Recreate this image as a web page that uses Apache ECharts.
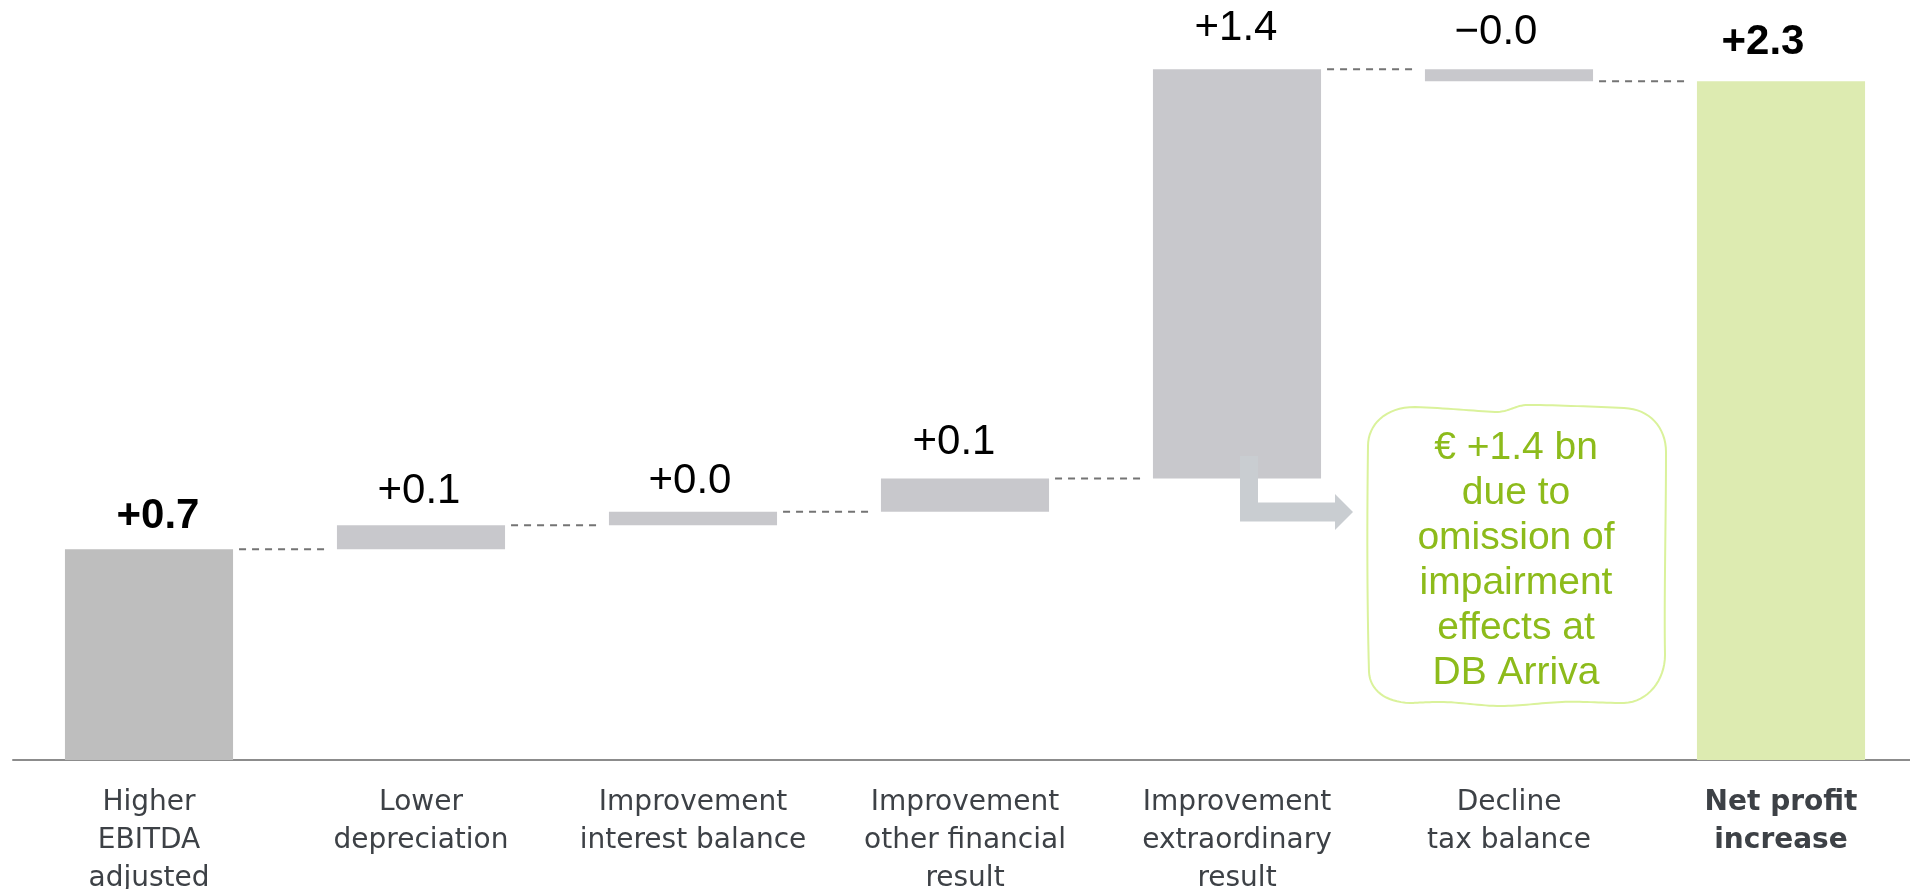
<!DOCTYPE html>
<html>
<head>
<meta charset="utf-8">
<title>Net profit bridge</title>
<script src="https://cdn.jsdelivr.net/npm/echarts@6/dist/echarts.min.js"></script>
<style>
  html, body { margin: 0; padding: 0; background: #ffffff; overflow: hidden; }
  #chart { width: 1910px; height: 889px; }
</style>
</head>
<body>
<div id="chart"></div>
<script>
// Bridge steps (€ bn) and the closing total
const categories = [
  'Higher\nEBITDA\nadjusted',
  'Lower\ndepreciation',
  'Improvement\ninterest balance',
  'Improvement\nother financial\nresult',
  'Improvement\nextraordinary\nresult',
  'Decline\ntax balance',
  'Net profit\nincrease'
];
const deltas = [0.70, 0.08, 0.045, 0.11, 1.36, -0.04];
const boldValues = [0, 6];
const boldCategories = [6];
const noteLines = ['€ +1.4 bn', 'due to', 'omission of', 'impairment', 'effects at', 'DB Arriva'];

// small label nudges [dx, dy] in px
const labelNudge = [[9, 4], [-2, 3], [-3, 7], [-11, 1], [-1, -4], [-13, 0], [-18, -2]];

const round3 = v => Math.round(v * 1000) / 1000;
const fmt = v => (v < 0 ? '\u2212' : '+') + Math.abs(v).toFixed(1);

// cumulative levels
const levels = [];
let run = 0;
deltas.forEach(d => { run = round3(run + d); levels.push(run); });
const total = levels[levels.length - 1];

const baseData = [];
const barData = [];
const colors = ['#bebebe', '#c8c8cc', '#c8c8cc', '#c8c8cc', '#c8c8cc', '#c8c8cc', '#ddebb1'];
let prev = 0;
deltas.forEach((d, i) => {
  baseData.push(round3(Math.min(prev, levels[i])));
  barData.push({ value: round3(Math.abs(d)), raw: d });
  prev = levels[i];
});
baseData.push(0);
barData.push({ value: total, raw: total });

barData.forEach((item, i) => {
  item.itemStyle = { color: colors[i] };
  item.label = {
    offset: labelNudge[i],
    fontWeight: boldValues.includes(i) ? 'bold' : 'normal'
  };
});

const connectorData = levels.map((v, i) => [i, v]);

const xData = categories.map((c, i) => ({
  value: c,
  textStyle: { fontWeight: boldCategories.includes(i) ? 'bold' : 'normal' }
}));

// hand-drawn style outline of the note box, as cubic segments
const noteOutline = [
  [1368, 446],
  [1368, 425, 1385, 407, 1415, 407],
  [1445, 408, 1475, 411, 1495, 412],
  [1510, 412, 1515, 405, 1528, 405],
  [1560, 405, 1595, 407, 1624, 408],
  [1650, 409, 1666, 428, 1666, 452],
  [1666, 520, 1664, 600, 1665, 655],
  [1665, 680, 1648, 702, 1624, 703],
  [1600, 703, 1580, 701, 1562, 702],
  [1540, 703, 1520, 706, 1501, 706],
  [1480, 706, 1460, 702, 1440, 702],
  [1425, 702, 1415, 703, 1410, 703],
  [1385, 702, 1370, 690, 1369, 672],
  [1367, 600, 1367, 520, 1368, 446]
];
function sampleCubics(segs) {
  const pts = [segs[0].slice()];
  let [x0, y0] = segs[0];
  for (let s = 1; s < segs.length; s++) {
    const [x1, y1, x2, y2, x3, y3] = segs[s];
    for (let k = 1; k <= 16; k++) {
      const t = k / 16, u = 1 - t;
      pts.push([
        u * u * u * x0 + 3 * u * u * t * x1 + 3 * u * t * t * x2 + t * t * t * x3,
        u * u * u * y0 + 3 * u * u * t * y1 + 3 * u * t * t * y2 + t * t * t * y3
      ]);
    }
    x0 = x3; y0 = y3;
  }
  return pts;
}

const chart = echarts.init(document.getElementById('chart'), null, { renderer: 'canvas' });

const option = {
  animation: false,
  backgroundColor: '#ffffff',
  grid: {
    left: 13, width: 1904, top: 7.5, bottom: 129,
    containLabel: false,
    outerBoundsMode: 'none'
  },
  xAxis: {
    type: 'category',
    data: xData,
    axisLine: { show: true, lineStyle: { color: '#8c8c8c', width: 2 } },
    axisTick: { show: false },
    axisLabel: {
      interval: 0,
      margin: 24,
      fontFamily: 'DejaVu Sans',
      fontSize: 28,
      lineHeight: 38,
      color: '#3d4146'
    }
  },
  yAxis: {
    type: 'value',
    min: 0,
    max: 2.5,
    show: false,
    splitLine: { show: false }
  },
  series: [
    {
      type: 'bar',
      stack: 'bridge',
      barWidth: '61.8%',
      silent: true,
      itemStyle: { color: 'rgba(0,0,0,0)' },
      data: baseData
    },
    {
      type: 'bar',
      stack: 'bridge',
      barWidth: '61.8%',
      data: barData,
      label: {
        show: true,
        position: 'top',
        distance: 16,
        fontFamily: 'Liberation Sans',
        fontSize: 42,
        color: '#000000',
        formatter: p => fmt(p.data.raw)
      }
    },
    {
      type: 'custom',
      data: connectorData,
      silent: true,
      z: 3,
      renderItem: (params, api) => {
        const i = api.value(0);
        const v = api.value(1);
        const p = api.coord([i, v]);
        const band = api.size([1, 0])[0];
        const half = band * 0.309;
        return {
          type: 'line',
          shape: { x1: p[0] + half + 6, y1: p[1], x2: p[0] + band - half - 9, y2: p[1] },
          style: { stroke: '#747474', lineWidth: 2, lineDash: [7, 6] }
        };
      }
    }
  ],
  graphic: [
    {
      type: 'polygon',
      z: 10,
      shape: {
        points: [
          [1240, 456], [1258, 456], [1258, 502.5], [1335, 502.5], [1335, 494],
          [1353, 512], [1335, 530], [1335, 521.5], [1240, 521.5]
        ]
      },
      style: { fill: '#c9cdd1' }
    },
    {
      type: 'polyline',
      z: 10,
      shape: { points: sampleCubics(noteOutline) },
      style: { fill: null, stroke: '#daf29b', lineWidth: 2 }
    },
    {
      type: 'text',
      z: 11,
      x: 1516,
      y: 561,
      style: {
        text: noteLines.join('\n'),
        fontFamily: 'Liberation Sans',
        fontSize: 39,
        lineHeight: 45,
        fill: '#8dbb1b',
        align: 'center',
        verticalAlign: 'middle'
      }
    }
  ]
};

chart.setOption(option);
</script>
</body>
</html>
